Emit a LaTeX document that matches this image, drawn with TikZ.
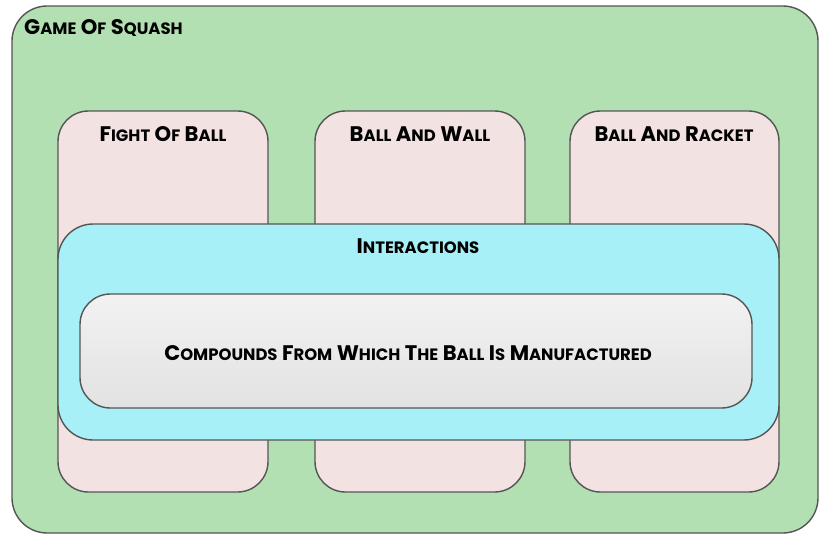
\documentclass[tikz,border=0pt]{standalone}
\usepackage{fontspec}
\setmainfont{Poppins}
\usetikzlibrary{shadings}
\definecolor{fieldgreen}{RGB}{178,224,178}
\definecolor{colpink}{RGB}{243,226,226}
\definecolor{boxcyan}{RGB}{168,240,247}
\definecolor{edgegray}{RGB}{85,85,85}
\definecolor{grayhi}{RGB}{242,242,242}
\definecolor{graylo}{RGB}{226,226,226}
% fake small caps: full-size initial, scaled-down rest
\newcommand\scw[2]{#1\scalebox{0.78}{#2}}
\tikzset{
  panel/.style={draw=edgegray, line width=1.2pt},
  label/.style={font=\fontsize{18}{20}\selectfont\bfseries, text=black, inner sep=0pt},
}
\begin{document}
\begin{tikzpicture}[x=0.03cm,y=-0.03cm]
\useasboundingbox (0,0) rectangle (821,535);
% outer field
\draw[panel, fill=fieldgreen, rounded corners=30] (12,6) rectangle (818,533);
\node[label, anchor=west] (game) at (24,28) {\scw{G}{AME} \scw{O}{F} \scw{S}{QUASH}};
% three columns
\draw[panel, fill=colpink, rounded corners=26] (58,111) rectangle (268,492);
\draw[panel, fill=colpink, rounded corners=26] (315,111) rectangle (525,492);
\draw[panel, fill=colpink, rounded corners=26] (570,111) rectangle (779,492);
\node[label] (c1) at (163,134) {\scw{F}{IGHT} \scw{O}{F} \scw{B}{ALL}};
\node[label] (c2) at (420,134) {\scw{B}{ALL} \scw{A}{ND} \scw{W}{ALL}};
\node[label] (c3) at (674,134) {\scw{B}{ALL} \scw{A}{ND} \scw{R}{ACKET}};
% interactions band
\draw[panel, fill=boxcyan, rounded corners=30] (58,224) rectangle (779,440);
\node[label] (inter) at (418,246) {\scw{I}{NTERACTIONS}};
% inner compounds box
\draw[panel, top color=grayhi, bottom color=graylo, rounded corners=26] (80,294) rectangle (752,408);
\node[label] (comp) at (408,353) {\scw{C}{OMPOUNDS} \scw{F}{ROM} \scw{W}{HICH} \scw{T}{HE} \scw{B}{ALL} \scw{I}{S} \scw{M}{ANUFACTURED}};
\end{tikzpicture}
\end{document}
